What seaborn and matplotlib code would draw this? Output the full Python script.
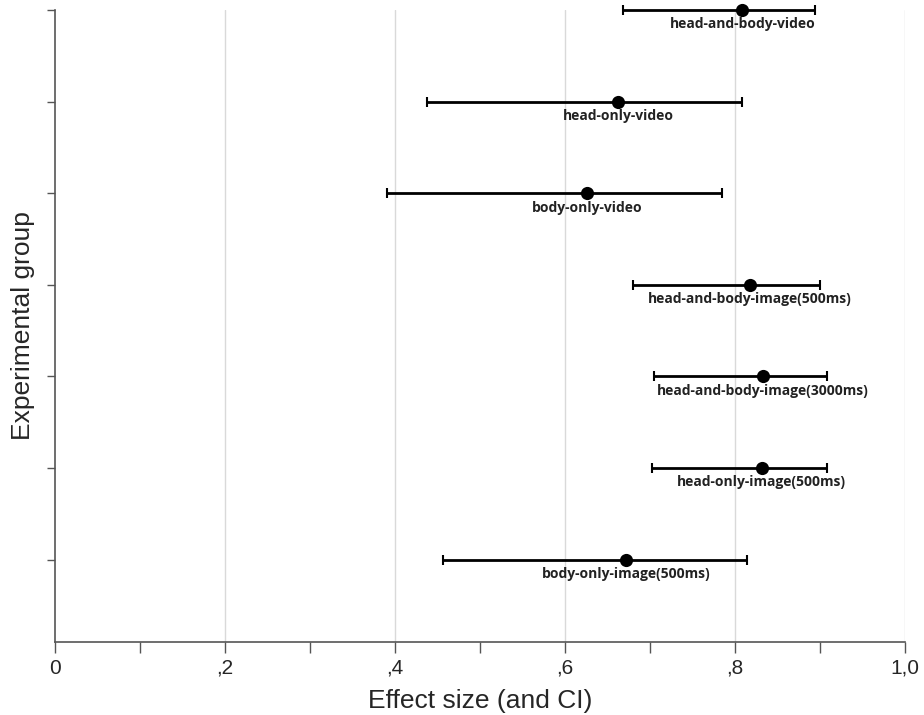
import numpy as np
import pandas as pd
import matplotlib
matplotlib.use("Agg")
from matplotlib import pyplot as plt
from matplotlib.ticker import MultipleLocator, FuncFormatter
import seaborn as sns

# groups from top to bottom
groups = ["head-and-body-video", "head-only-video", "body-only-video",
          "head-and-body-image(500ms)", "head-and-body-image(3000ms)",
          "head-only-image(500ms)", "body-only-image(500ms)"]
effect = [0.809, 0.663, 0.626, 0.818, 0.833, 0.832, 0.672]
ci_low = [0.668, 0.438, 0.391, 0.680, 0.705, 0.703, 0.457]
ci_high = [0.894, 0.809, 0.785, 0.901, 0.909, 0.909, 0.814]

df = pd.DataFrame({"group": groups, "effect": effect,
                   "lo": ci_low, "hi": ci_high})
df["pos"] = np.arange(len(groups), 0, -1)

sns.set_style("white")
plt.rcParams["font.family"] = ["Liberation Sans Narrow", "Liberation Sans", "DejaVu Sans"]

fig = plt.figure(figsize=(9.24, 7.15), dpi=100)
ax = fig.add_axes([0.0595, 0.102, 0.9195, 0.884])

# CI whiskers
ax.errorbar(df["effect"], df["pos"],
            xerr=[df["effect"] - df["lo"], df["hi"] - df["effect"]],
            fmt="none", ecolor="black", elinewidth=2, capsize=3.5,
            capthick=1.5, clip_on=False, zorder=3)
sns.scatterplot(data=df, x="effect", y="pos", ax=ax, color="black", s=90,
                edgecolor="black", linewidth=0, zorder=4, clip_on=False)

for _, r in df.iterrows():
    ax.text(r["effect"], r["pos"] - 0.08, r["group"], ha="center", va="top",
            fontsize=10, fontweight="bold", family=["Open Sans", "DejaVu Sans"],
            color="#222222")

ax.set_xlim(0, 1.0)
ax.set_ylim(0.1, 7)
ax.xaxis.set_major_locator(MultipleLocator(0.2))
ax.xaxis.set_minor_locator(MultipleLocator(0.1))

def fmt(v, _):
    if abs(v) < 1e-9:
        return "0"
    if abs(v - 1) < 1e-9:
        return "1,0"
    return "," + f"{v:.1f}".split(".")[1]

ax.xaxis.set_major_formatter(FuncFormatter(fmt))
ax.set_yticks(df["pos"])
ax.set_yticklabels([])
ax.tick_params(axis="x", which="both", direction="out", length=8, width=1,
               color="#555555", labelsize=15, pad=4, bottom=True)
ax.tick_params(axis="y", direction="out", length=6, width=1, color="#555555",
               left=True)

for x in [0.2, 0.4, 0.6, 0.8, 1.0]:
    ax.axvline(x, color="#d9d9d9", lw=1, zorder=0)

sns.despine(ax=ax, top=True, right=True)
ax.spines["left"].set_color("#555555")
ax.spines["bottom"].set_color("#555555")
ax.spines["left"].set_linewidth(1.2)
ax.spines["bottom"].set_linewidth(1.2)

ax.set_xlabel("Effect size (and CI)", fontsize=19, labelpad=8)
ax.set_ylabel("Experimental group", fontsize=19, labelpad=5)

fig.savefig("out.png", dpi=100)
